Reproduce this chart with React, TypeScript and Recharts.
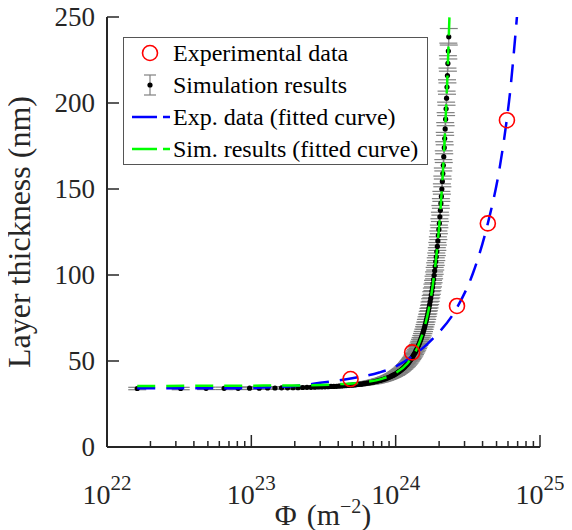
import React from "react";
import { ComposedChart, Scatter, Line, XAxis, YAxis, ErrorBar, Legend } from "recharts";

const FONT = '"Liberation Serif", "Times New Roman", serif';
const AXIS = "#262626";

// x values are in units of 1e22 m^-2
const expX = [48.7, 130, 266, 435, 590];
const expY = [39.5, 55, 82, 130, 190];

const simX = [
  1.62, 3.24, 4.86, 6.48, 8.1, 9.72, 11.34, 12.96, 14.58, 16.2,
  17.82, 19.44, 21.06, 22.68, 24.3, 25.92, 27.54, 29.16, 30.78, 32.4,
  34.02, 35.64, 37.26, 38.88, 40.5, 42.12, 43.74, 45.36, 46.98, 48.6,
  50.22, 51.84, 53.46, 55.08, 56.7, 58.32, 59.94, 61.56, 63.18, 64.8,
  66.42, 68.04, 69.66, 71.28, 72.9, 74.52, 76.14, 77.76, 79.38, 81,
  82.62, 84.24, 85.86, 87.48, 89.1, 90.72, 92.34, 93.96, 95.58, 97.2,
  98.82, 100.44, 102.06, 103.68, 105.3, 106.92, 108.54, 110.16, 111.78, 113.4,
  115.02, 116.64, 118.26, 119.88, 121.5, 123.12, 124.74, 126.36, 127.98, 129.6,
  131.22, 132.84, 134.46, 136.08, 137.7, 139.32, 140.94, 142.56, 144.18, 145.8,
  147.42, 149.04, 150.66, 152.28, 153.9, 155.52, 157.14, 158.76, 160.38, 162,
  163.62, 165.24, 166.86, 168.48, 170.1, 171.72, 173.34, 174.96, 176.58, 178.2,
  179.82, 181.44, 183.06, 184.68, 186.3, 187.92, 189.54, 191.16, 192.78, 194.4,
  196.02, 197.64, 199.26, 200.88, 202.5, 204.12, 205.74, 207.36, 208.98, 210.6,
  212.22, 213.84, 215.46, 217.08, 218.7, 220.32, 221.94, 223.56, 225.18, 226.8,
  228.42, 230.04, 231.66, 233.28,
];
const simY = [
  34.0, 34.0, 34.1, 34.1, 34.1, 34.2, 34.2, 34.3, 34.3, 34.4,
  34.4, 34.5, 34.5, 34.6, 34.7, 34.7, 34.8, 34.9, 34.9, 35.0,
  35.1, 35.2, 35.2, 35.3, 35.4, 35.5, 35.6, 35.7, 35.8, 35.9,
  36.0, 36.1, 36.3, 36.4, 36.5, 36.6, 36.8, 36.9, 37.1, 37.2,
  37.4, 37.6, 37.7, 37.9, 38.1, 38.3, 38.5, 38.7, 38.9, 39.1,
  39.4, 39.6, 39.9, 40.1, 40.4, 40.7, 41.0, 41.3, 41.6, 41.9,
  42.3, 42.6, 43.0, 43.4, 43.8, 44.2, 44.6, 45.0, 45.5, 46.0,
  46.4, 47.0, 47.5, 48.0, 48.6, 49.2, 49.8, 50.5, 51.1, 51.8,
  52.5, 53.3, 54.0, 54.8, 55.7, 56.5, 57.4, 58.4, 59.3, 60.3,
  61.4, 62.4, 63.5, 64.7, 65.9, 67.2, 68.5, 69.8, 71.2, 72.7,
  74.2, 75.7, 77.4, 79.0, 80.8, 82.6, 84.5, 86.4, 88.5, 90.6,
  92.8, 95.0, 97.4, 99.8, 102.4, 105.0, 107.8, 110.6, 113.6, 116.6,
  119.8, 123.1, 126.5, 130.1, 133.8, 137.6, 141.6, 145.7, 150.0, 154.4,
  159.0, 163.8, 168.8, 174.0, 179.3, 184.9, 190.6, 196.6, 202.8, 209.3,
  216.0, 223.0, 230.2, 238.5,
];
const simErr = [
  0.7, 0.7, 0.7, 0.7, 0.7, 0.7, 0.7, 0.7, 0.7, 0.7,
  0.7, 0.7, 0.7, 0.7, 0.7, 0.7, 0.7, 0.7, 0.7, 0.7,
  0.7, 0.7, 0.7, 0.7, 0.7, 0.7, 0.7, 0.7, 0.7, 0.7,
  0.7, 0.7, 0.7, 0.7, 0.7, 0.7, 0.7, 0.7, 0.7, 0.7,
  0.7, 0.8, 0.8, 0.8, 0.8, 0.8, 0.8, 0.8, 0.8, 0.8,
  0.8, 0.8, 0.8, 0.8, 0.8, 0.8, 0.8, 0.8, 0.8, 0.8,
  0.8, 0.9, 0.9, 0.9, 0.9, 0.9, 0.9, 0.9, 0.9, 0.9,
  0.9, 0.9, 1.0, 1.0, 1.0, 1.0, 1.0, 1.0, 1.0, 1.0,
  1.1, 1.1, 1.1, 1.1, 1.1, 1.1, 1.1, 1.2, 1.2, 1.2,
  1.2, 1.2, 1.3, 1.3, 1.3, 1.3, 1.4, 1.4, 1.4, 1.5,
  1.5, 1.5, 1.5, 1.6, 1.6, 1.7, 1.7, 1.7, 1.8, 1.8,
  1.9, 1.9, 1.9, 2.0, 2.0, 2.1, 2.2, 2.2, 2.3, 2.3,
  2.4, 2.5, 2.5, 2.6, 2.7, 2.8, 2.8, 2.9, 3.0, 3.1,
  3.2, 3.3, 3.4, 3.5, 3.6, 3.7, 3.8, 3.9, 4.1, 4.2,
  4.3, 4.5, 4.6, 4.8,
];

// fitted curve to experimental data (blue)
const expFitX = [1.62, 5, 10, 12, 20, 30, 50, 77, 100, 129, 181, 266, 343, 435, 527, 590, 620, 660, 692];
const expFitY = [34.1, 34.1, 34.3, 34.6, 35.4, 37.3, 40.0, 43.3, 46.8, 52.5, 63, 81, 101, 130, 163, 191, 206, 230, 250];

// fitted curve to simulation results (green)
const simFitX = [1.62, 20, 40, 60, 80, 100, 120, 140, 160, 170, 180, 190, 200, 210, 220, 230, 236];
const simFitY = [35.5, 35.8, 36.5, 37.6, 39.6, 43.0, 48.4, 57.0, 70.9, 80.7, 93.1, 108.6, 128.2, 152.8, 183.9, 222.9, 251];

const decades = [22, 23, 24, 25];
const minorMult = [2, 3, 4, 5, 6, 7, 8, 9];
const yTicks = [0, 50, 100, 150, 200, 250];

const E = 1e22;
const xTicks: number[] = [];
decades.forEach((d) => {
  xTicks.push(Math.pow(10, d));
  if (d < 25) minorMult.forEach((m) => xTicks.push(m * Math.pow(10, d)));
});

const expData = expX.map((x, i) => ({ x: x * E, y: expY[i] }));
const simData = simX.map((x, i) => ({ x: x * E, y: simY[i], err: simErr[i] }));
const expFit = expFitX.map((x, i) => ({ x: x * E, y: expFitY[i] }));
const simFit = simFitX.map((x, i) => ({ x: x * E, y: simFitY[i] }));

const decadeOf = (v: number) => {
  const l = Math.log10(v);
  const r = Math.round(l);
  return Math.abs(l - r) < 1e-6 ? r : null;
};

const XTickBottom = (props: any) => {
  const { x, y, payload } = props;
  const d = decadeOf(payload.value);
  return (
    <g>
      <line x1={x} y1={y} x2={x} y2={y - (d !== null ? 12 : 6)} stroke={AXIS} strokeWidth={1.5} />
      {d !== null && (
        <text x={x} y={y + 57} textAnchor="middle" fontFamily={FONT} fontSize={28} fill={AXIS}>
          10<tspan dy={-14} fontSize={21}>{d}</tspan>
        </text>
      )}
    </g>
  );
};

const XTickTop = (props: any) => {
  const { x, y, payload } = props;
  const d = decadeOf(payload.value);
  return <line x1={x} y1={y} x2={x} y2={y + (d !== null ? 12 : 6)} stroke={AXIS} strokeWidth={1.5} />;
};

const YTickLeft = (props: any) => {
  const { x, y, payload } = props;
  return (
    <g>
      <line x1={x} y1={y} x2={x + 12} y2={y} stroke={AXIS} strokeWidth={1.5} />
      <text x={x - 12} y={y} dy="0.35em" textAnchor="end" fontFamily={FONT} fontSize={27} fill={AXIS}>
        {payload.value}
      </text>
    </g>
  );
};

const YTickRight = (props: any) => {
  const { x, y } = props;
  return <line x1={x} y1={y} x2={x - 12} y2={y} stroke={AXIS} strokeWidth={1.5} />;
};

const SimDot = (props: any) => <circle cx={props.cx} cy={props.cy} r={2.6} fill="#000" />;
const ExpCircle = (props: any) => (
  <circle cx={props.cx} cy={props.cy} r={7.5} fill="none" stroke="#ff0000" strokeWidth={1.6} />
);

const LegendBox = () => {
  const rows = [16, 48, 80, 112];
  const tx = 50;
  const text = (y: number, s: string) => (
    <text x={tx} y={y} dy="0.35em" fontFamily={FONT} fontSize={24} fill="#000">
      {s}
    </text>
  );
  return (
    <svg width={305} height={128} style={{ display: "block" }}>
      <rect x={0.5} y={0.5} width={304} height={127} fill="#fff" stroke="#555" strokeWidth={1} />
      <circle cx={27} cy={rows[0]} r={7.5} fill="none" stroke="#ff0000" strokeWidth={1.6} />
      {text(rows[0], "Experimental data")}
      <line x1={27} y1={rows[1] - 10} x2={27} y2={rows[1] + 10} stroke="#808080" strokeWidth={1.2} />
      <line x1={21} y1={rows[1] - 10} x2={33} y2={rows[1] - 10} stroke="#808080" strokeWidth={1.2} />
      <line x1={21} y1={rows[1] + 10} x2={33} y2={rows[1] + 10} stroke="#808080" strokeWidth={1.2} />
      <circle cx={27} cy={rows[1]} r={2.6} fill="#000" />
      {text(rows[1], "Simulation results")}
      <line x1={9} y1={rows[2]} x2={47} y2={rows[2]} stroke="#0000ff" strokeWidth={2.5} strokeDasharray="25 6" />
      {text(rows[2], "Exp. data (fitted curve)")}
      <line x1={9} y1={rows[3]} x2={47} y2={rows[3]} stroke="#00ff00" strokeWidth={2.5} strokeDasharray="25 6" />
      {text(rows[3], "Sim. results (fitted curve)")}
    </svg>
  );
};

export default function App() {
  return (
    <div style={{ marginLeft: -8, marginTop: -8, background: "#fff" }}>
      <ComposedChart width={572} height={530} margin={{ top: 17, right: 32, bottom: 0, left: 0 }}>
        <XAxis
          dataKey="x"
          type="number"
          scale="log"
          domain={[1e22, 1e25]}
          allowDataOverflow
          ticks={xTicks}
          interval={0}
          height={83}
          tickSize={0}
          tickMargin={0}
          tickLine={false}
          tick={XTickBottom}
          axisLine={{ stroke: AXIS, strokeWidth: 2 }}
        />
        <XAxis
          xAxisId="top"
          orientation="top"
          type="number"
          scale="log"
          domain={[1e22, 1e25]}
          allowDataOverflow
          ticks={xTicks}
          interval={0}
          height={0}
          tickSize={0}
          tickMargin={0}
          tickLine={false}
          tick={XTickTop}
          axisLine={{ stroke: AXIS, strokeWidth: 2 }}
        />
        <YAxis
          dataKey="y"
          type="number"
          domain={[0, 250]}
          allowDataOverflow
          ticks={yTicks}
          interval={0}
          width={107}
          tickSize={0}
          tickMargin={0}
          tickLine={false}
          tick={YTickLeft}
          axisLine={{ stroke: AXIS, strokeWidth: 2 }}
          label={{
            value: "Layer thickness (nm)",
            angle: -90,
            position: "insideLeft",
            dx: 14,
            style: { fontFamily: FONT, fontSize: 32, fill: AXIS, textAnchor: "middle" },
          }}
        />
        <YAxis
          yAxisId="right"
          orientation="right"
          type="number"
          domain={[0, 250]}
          ticks={yTicks}
          interval={0}
          width={0}
          tickSize={0}
          tickMargin={0}
          tickLine={false}
          tick={YTickRight}
          axisLine={{ stroke: AXIS, strokeWidth: 2 }}
        />
        <Scatter data={simData} shape={SimDot} isAnimationActive={false} zIndex={400}>
          <ErrorBar dataKey="err" direction="y" width={9} stroke="#808080" strokeWidth={1.2} />
        </Scatter>
        <Line
          data={expFit}
          dataKey="y"
          type="monotone"
          stroke="#0000ff"
          strokeWidth={2.5}
          strokeDasharray="18 11"
          dot={false}
          isAnimationActive={false}
          zIndex={700}
        />
        <Line
          data={simFit}
          dataKey="y"
          type="monotone"
          stroke="#00ff00"
          strokeWidth={2.5}
          strokeDasharray="18 11"
          dot={false}
          isAnimationActive={false}
          zIndex={750}
        />
        <Scatter data={expData} shape={ExpCircle} isAnimationActive={false} zIndex={800} />
        <Legend
          layout="vertical"
          align="center"
          verticalAlign="middle"
          content={LegendBox}
          wrapperStyle={{ left: 123, top: 37, width: 305, height: 128 }}
        />
        <text x={323} y={525} textAnchor="middle" fontFamily={FONT} fontSize={30} fill={AXIS}>
          Φ<tspan dx={10}>(m</tspan>
          <tspan dy={-12} fontSize={20}>−2</tspan>
          <tspan dy={12}>)</tspan>
        </text>
      </ComposedChart>
    </div>
  );
}
